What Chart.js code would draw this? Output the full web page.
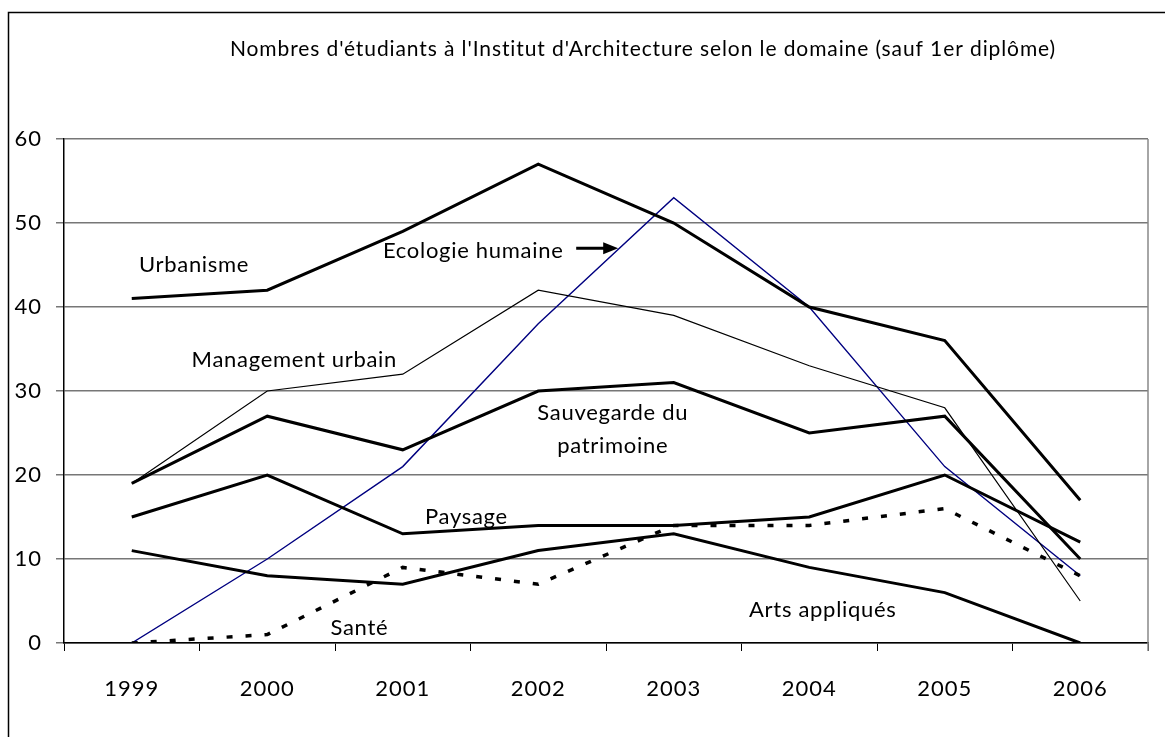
<!DOCTYPE html>
<html>
<head>
<meta charset="utf-8">
<script src="https://cdn.jsdelivr.net/npm/chart.js@4"></script>
<style>
  body { margin: 0; background: #fff; }
  #wrap { width: 1165px; height: 737px; }
</style>
</head>
<body>
<div id="wrap"><canvas id="myChart" width="1165" height="737"></canvas></div>
<script>
const years = ['1999', '2000', '2001', '2002', '2003', '2004', '2005', '2006'];
const yTicks = [0, 10, 20, 30, 40, 50, 60];
const urbanisme = [41, 42, 49, 57, 50, 40, 36, 17];
const ecologie = [0, 10, 21, 38, 53, 40, 21, 8];
const management = [19, 30, 32, 42, 39, 33, 28, 5];
const sauvegarde = [19, 27, 23, 30, 31, 25, 27, 10];
const paysage = [15, 20, 13, 14, 14, 15, 20, 12];
const arts = [11, 8, 7, 11, 13, 9, 6, 0];
const sante = [0, 1, 9, 7, 14, 14, 16, 8];
const title = "Nombres d'étudiants à l'Institut d'Architecture selon le domaine (sauf 1er diplôme)";

const FONT = 'Lato, "Noto Sans", sans-serif';

// series labels written inside the plot (x = category index, y = value)
const notes = [
    { text: 'Urbanisme', x: 0.46, y: 45 },
    { text: 'Ecologie humaine', x: 2.52, y: 46.7 },
    { text: 'Management urbain', x: 1.2, y: 33.7 },
    { text: 'Sauvegarde du', x: 3.55, y: 27.4 },
    { text: 'patrimoine', x: 3.55, y: 23.5 },
    { text: 'Paysage', x: 2.47, y: 15 },
    { text: 'Santé', x: 1.68, y: 1.8 },
    { text: 'Arts appliqués', x: 5.1, y: 3.9 }
];

const decorations = {
    id: 'decorations',
    beforeDraw(chart) {
        // wider spacing for the tick labels
        chart.ctx.letterSpacing = '1px';
    },
    afterDraw(chart) {
        const ctx = chart.ctx;
        const area = chart.chartArea;
        const sx = chart.scales.x;
        const sy = chart.scales.y;
        ctx.save();
        // outer frame (left and top)
        ctx.strokeStyle = '#000';
        ctx.lineWidth = 1.5;
        ctx.beginPath();
        ctx.moveTo(8.5, 737);
        ctx.lineTo(8.5, 12.5);
        ctx.lineTo(1165, 12.5);
        ctx.stroke();
        // right border of plot
        ctx.strokeStyle = '#888';
        ctx.lineWidth = 1.5;
        ctx.beginPath();
        ctx.moveTo(area.right, area.top);
        ctx.lineTo(area.right, area.bottom + 8);
        ctx.stroke();
        // title
        ctx.fillStyle = '#000';
        ctx.font = '21px ' + FONT;
        ctx.letterSpacing = '0.9px';
        ctx.textAlign = 'center';
        ctx.textBaseline = 'middle';
        ctx.fillText(title, 643, 49);
        // notes
        ctx.font = '22px ' + FONT;
        ctx.letterSpacing = '0.7px';
        notes.forEach(n => {
            ctx.fillText(n.text, sx.getPixelForValue(n.x), sy.getPixelForValue(n.y));
        });
        // arrow to the Ecologie humaine line
        const ax0 = sx.getPixelForValue(3.28);
        const ax1 = sx.getPixelForValue(3.59);
        const ay = sy.getPixelForValue(47);
        ctx.lineWidth = 3;
        ctx.strokeStyle = '#000';
        ctx.beginPath();
        ctx.moveTo(ax0, ay);
        ctx.lineTo(ax1 - 10, ay);
        ctx.stroke();
        ctx.beginPath();
        ctx.moveTo(ax1, ay);
        ctx.lineTo(ax1 - 15, ay - 6);
        ctx.lineTo(ax1 - 15, ay + 6);
        ctx.closePath();
        ctx.fill();
        ctx.restore();
    }
};

function line(label, data, color, width, dash) {
    return {
        label: label,
        data: data,
        borderColor: color,
        backgroundColor: color,
        borderWidth: width,
        borderDash: dash || [],
        borderCapStyle: 'butt',
        pointRadius: 0,
        tension: 0,
        fill: false
    };
}

const ctx = document.getElementById('myChart');
new Chart(ctx, {
    type: 'line',
    data: {
        labels: years,
        datasets: [
            line('Urbanisme', urbanisme, '#000', 3),
            line('Management urbain', management, '#000', 1.2),
            line('Sauvegarde du patrimoine', sauvegarde, '#000', 3),
            line('Paysage', paysage, '#000', 3),
            line('Arts appliqués', arts, '#000', 3),
            line('Santé', sante, '#000', 3.5, [6, 13]),
            line('Ecologie humaine', ecologie, '#000080', 1.4)
        ]
    },
    options: {
        responsive: false,
        animation: false,
        layout: { padding: { left: 0, top: 139, right: 17, bottom: 0 } },
        plugins: {
            legend: { display: false },
            title: { display: false },
            tooltip: { enabled: false }
        },
        scales: {
            x: {
                offset: true,
                grid: {
                    offset: true,
                    drawOnChartArea: false,
                    drawTicks: true,
                    tickLength: 8,
                    color: '#000',
                    lineWidth: 1
                },
                border: { color: '#000', width: 1.5 },
                ticks: {
                    color: '#000',
                    font: { family: FONT, size: 22 },
                    padding: 25,
                    maxRotation: 0
                },
                afterFit: s => { s.height = 94; }
            },
            y: {
                min: 0,
                max: 60,
                afterBuildTicks: s => { s.ticks = yTicks.map(v => ({ value: v })); },
                grid: {
                    color: '#777',
                    lineWidth: 1.5,
                    tickLength: 8
                },
                border: { color: '#000', width: 1.5 },
                ticks: {
                    color: '#000',
                    font: { family: FONT, size: 22 },
                    padding: 14
                },
                afterFit: s => { s.width = 64; }
            }
        }
    },
    plugins: [decorations]
});
</script>
</body>
</html>
